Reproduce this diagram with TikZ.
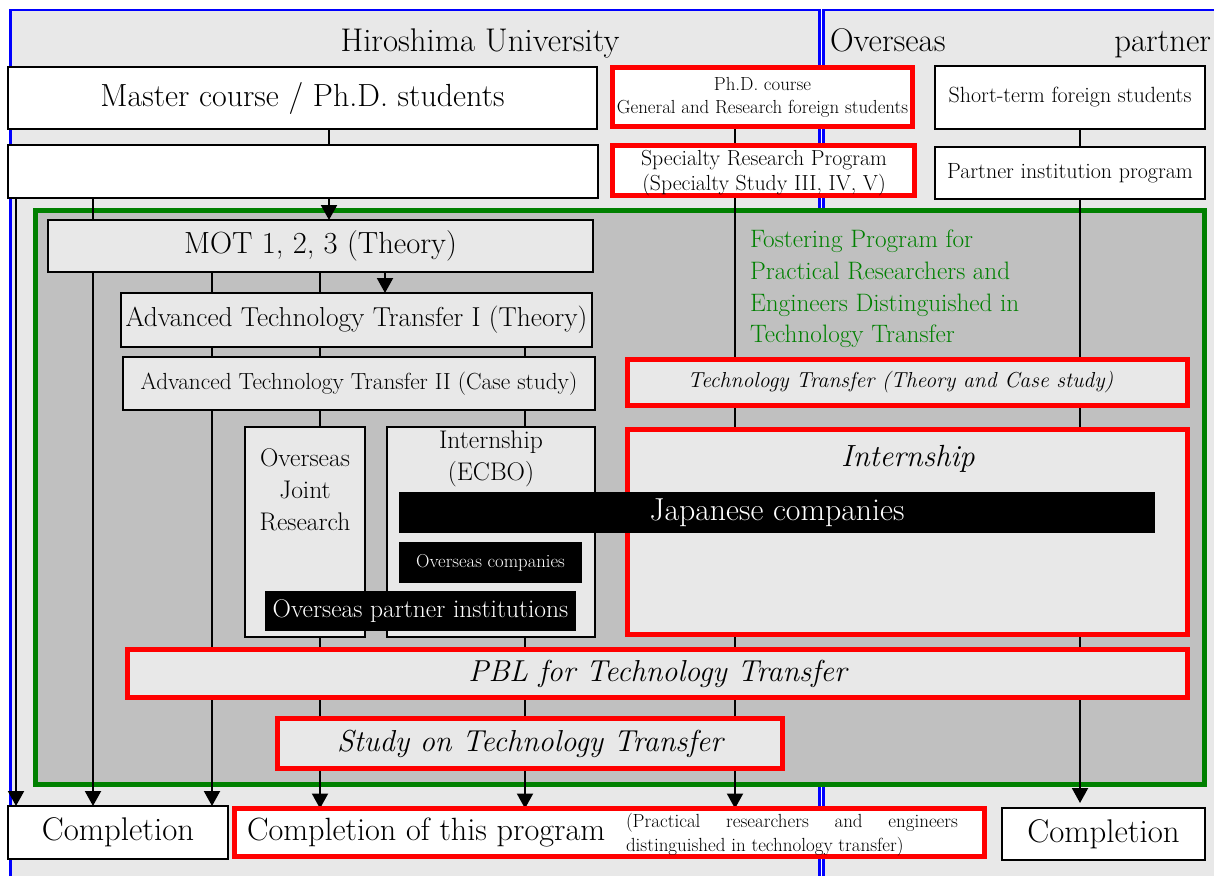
\documentclass[tikz,border=0pt]{standalone}
\usepackage{fontspec}
\usetikzlibrary{arrows.meta}
\definecolor{lg}{HTML}{E8E8E8}
\definecolor{dg}{HTML}{C0C0C0}
\definecolor{grn}{HTML}{008000}
\definecolor{blu}{HTML}{0000FF}
\definecolor{rd}{HTML}{FF0000}
\pgfdeclarelayer{bg}
\pgfdeclarelayer{lines}
\pgfsetlayers{bg,lines,main}
\begin{document}
\begin{tikzpicture}[x=1pt,y=-1pt,
  every node/.style={inner sep=0pt, outer sep=0pt},
  wbox/.style={draw=black, line width=1.3pt, fill=white},
  gbox/.style={draw=black, line width=1.2pt, fill=lg},
  rbox/.style={draw=rd, line width=5pt},
  bbox/.style={fill=black, text=white},
  conn/.style={line width=2pt, draw=black},
  arr/.style={conn, -{Triangle[width=16pt,length=15pt]}},
  fbig/.style={font=\fontsize{32.8}{38}\selectfont},
  fcompp/.style={font=\fontsize{32.2}{38}\selectfont},
  fmaster/.style={font=\fontsize{32}{38}\selectfont},
  fmot/.style={font=\fontsize{30.6}{36}\selectfont},
  fatta/.style={font=\fontsize{27.4}{32}\selectfont},
  fattb/.style={font=\fontsize{23.3}{28}\selectfont},
  fphd/.style={font=\fontsize{18.9}{23}\selectfont},
  fspec/.style={font=\fontsize{21.8}{24.5}\selectfont},
  fshort/.style={font=\fontsize{22}{26}\selectfont},
  ffost/.style={font=\fontsize{25.2}{31.7}\selectfont},
  ftt/.style={font=\fontsize{21.7}{26}\selectfont\itshape},
  fint/.style={font=\fontsize{30.6}{35}\selectfont\itshape},
  fpbl/.style={font=\fontsize{30.3}{35}\selectfont\itshape},
  fojr/.style={font=\fontsize{25.5}{32}\selectfont},
  fjap/.style={font=\fontsize{31.8}{36}\selectfont},
  fovc/.style={font=\fontsize{18.7}{22}\selectfont},
  fopi/.style={font=\fontsize{25.5}{30}\selectfont},
  fsmall/.style={font=\fontsize{19}{24}\selectfont}
]
\useasboundingbox (0,0) rectangle (1214,876);

% ---------- background ----------
\begin{pgfonlayer}{bg}
\fill[white] (0,0) rectangle (1214,876);
\fill[lg] (10,9) rectangle (820.5,876);
\fill[lg] (823,9) rectangle (1214,876);
\draw[blu, line width=2.5pt] (10.5,876) -- (10.5,10.2) -- (819.6,10.2) -- (819.6,876);
\draw[blu, line width=2.5pt] (823.6,876) -- (823.6,10.2) -- (1214,10.2);
\node[draw=grn, line width=5pt, fill=dg, minimum width=1169pt, minimum height=574pt] (frame) at (620,497.5) {};
\end{pgfonlayer}

% ---------- titles ----------
\node[fbig, anchor=base] (hu) at (480,51) {Hiroshima University};
\node[fbig, anchor=base west] (ovs) at (830,51) {Overseas};
\node[fbig, anchor=base east] (ptn) at (1211,51) {partner};

% ---------- top boxes ----------
\node[wbox, fmaster, minimum width=589pt, minimum height=62pt] (master) at (302.5,98) {Master course / Ph.D. students};
\node[wbox, minimum width=590pt, minimum height=53pt] (blank) at (303,171.5) {};
\node[rbox, fill=white, fphd, align=center, minimum width=300pt, minimum height=59pt] (phd) at (762.5,97) {Ph.D. course\\General and Research foreign students};
\node[rbox, fill=white, minimum width=302pt, minimum height=50pt] (spec) at (763.5,170.5) {};
\node[fspec, align=center] (spect) at (764,173) {Specialty Research Program\\(Specialty Study III, IV, V)};
\node[wbox, fshort, minimum width=270pt, minimum height=63pt] (short) at (1070,97.5) {Short-term foreign students};
\node[wbox, fshort, minimum width=270pt, minimum height=52pt] (partner) at (1070,173) {Partner institution program};

% ---------- inside the fostering program ----------
\node[gbox, fmot, minimum width=545pt, minimum height=52pt] (mot) at (320.5,246) {MOT 1, 2, 3 (Theory)};
\node[gbox, fatta, minimum width=471pt, minimum height=54pt] (att1) at (356.5,320) {Advanced Technology Transfer I (Theory)};
\node[gbox, fattb, minimum width=472pt, minimum height=53pt] (att2) at (359,383.5) {Advanced Technology Transfer II (Case study)};

\node[gbox, minimum width=120pt, minimum height=210pt] (ojr) at (305,532) {};
\node[fojr, align=center] (ojrt) at (305,490) {Overseas\\Joint\\Research};
\node[gbox, minimum width=208pt, minimum height=210pt] (intern) at (491,532) {};
\node[fojr, align=center] (internt) at (491,459) {Internship\\(ECBO)};

\node[rbox, fill=lg, ftt, minimum width=560pt, minimum height=46pt] (tt) at (907.5,382.5) {\hspace*{-14pt}Technology Transfer (Theory and Case study)};
\node[rbox, fill=lg, minimum width=560pt, minimum height=205pt] (bigint) at (907.5,532) {};
\node[fint] (bigintt) at (908,459) {Internship};

\node[bbox, fjap, minimum width=756pt, minimum height=41pt] (jap) at (777,512.5) {Japanese companies};
\node[bbox, fovc, minimum width=183pt, minimum height=41pt] (ovc) at (490.5,562.5) {Overseas companies};
\node[bbox, fopi, minimum width=311pt, minimum height=40pt] (opi) at (420.5,611) {Overseas partner institutions};

\node[ffost, text=grn, align=left, anchor=west] (fosttext) at (750,289) {Fostering Program for\\Practical Researchers and\\Engineers Distinguished in\\Technology Transfer};

\node[rbox, fill=lg, fpbl, minimum width=1060pt, minimum height=48pt] (pbl) at (657.5,673.5) {PBL for Technology Transfer};
\node[rbox, fill=lg, fpbl, minimum width=505pt, minimum height=50pt] (study) at (530,743.5) {Study on Technology Transfer};

% ---------- completion ----------
\node[wbox, fbig, minimum width=220pt, minimum height=53pt] (compL) at (118,832.5) {Completion};
\node[rbox, fill=white, minimum width=750pt, minimum height=48pt] (compP) at (609.5,832.5) {};
\node[fcompp, anchor=base west] (compPt) at (247,840) {Completion of this program};
\node[fsmall, align=left, anchor=west] (compPs) at (626,835) {\makebox[332pt][s]{(Practical researchers and engineers}\\distinguished in technology transfer)};
\node[wbox, fbig, minimum width=203pt, minimum height=52pt] (compR) at (1103.5,834) {Completion};

% ---------- connectors ----------
\coordinate (c16) at (16,0);
\coordinate (c93) at (93,0);
\coordinate (c212) at (212,0);
\coordinate (c320) at (320,0);
\coordinate (c329) at (329,0);
\coordinate (c385) at (385,0);
\coordinate (c525) at (525,0);
\coordinate (c735) at (735,0);
\coordinate (c1080) at (1080,0);
\begin{pgfonlayer}{lines}
\draw[arr] (blank.south -| c16) -- (compL.north -| c16);
\draw[conn] (master.south -| c329) -- (blank.north -| c329);
\draw[arr] (blank.south -| c329) -- (mot.north -| c329);
\draw[arr] (blank.south -| c93) -- (compL.north -| c93);
\draw[arr] (mot.south -| c212) -- (compL.north -| c212);
\draw[arr] (mot.south -| c320) -- (compP.north -| c320);
\draw[arr] (mot.south -| c385) -- (att1.north -| c385);
\draw[arr] (att1.south -| c525) -- (compP.north -| c525);
\draw[conn] (phd.south -| c735) -- (spec.north -| c735);
\draw[arr] (spec.south -| c735) -- (compP.north -| c735);
\draw[conn] (short.south -| c1080) -- (partner.north -| c1080);
\draw[arr, shorten >=5pt] (partner.south -| c1080) -- (compR.north -| c1080);
\end{pgfonlayer}
\end{tikzpicture}
\end{document}
